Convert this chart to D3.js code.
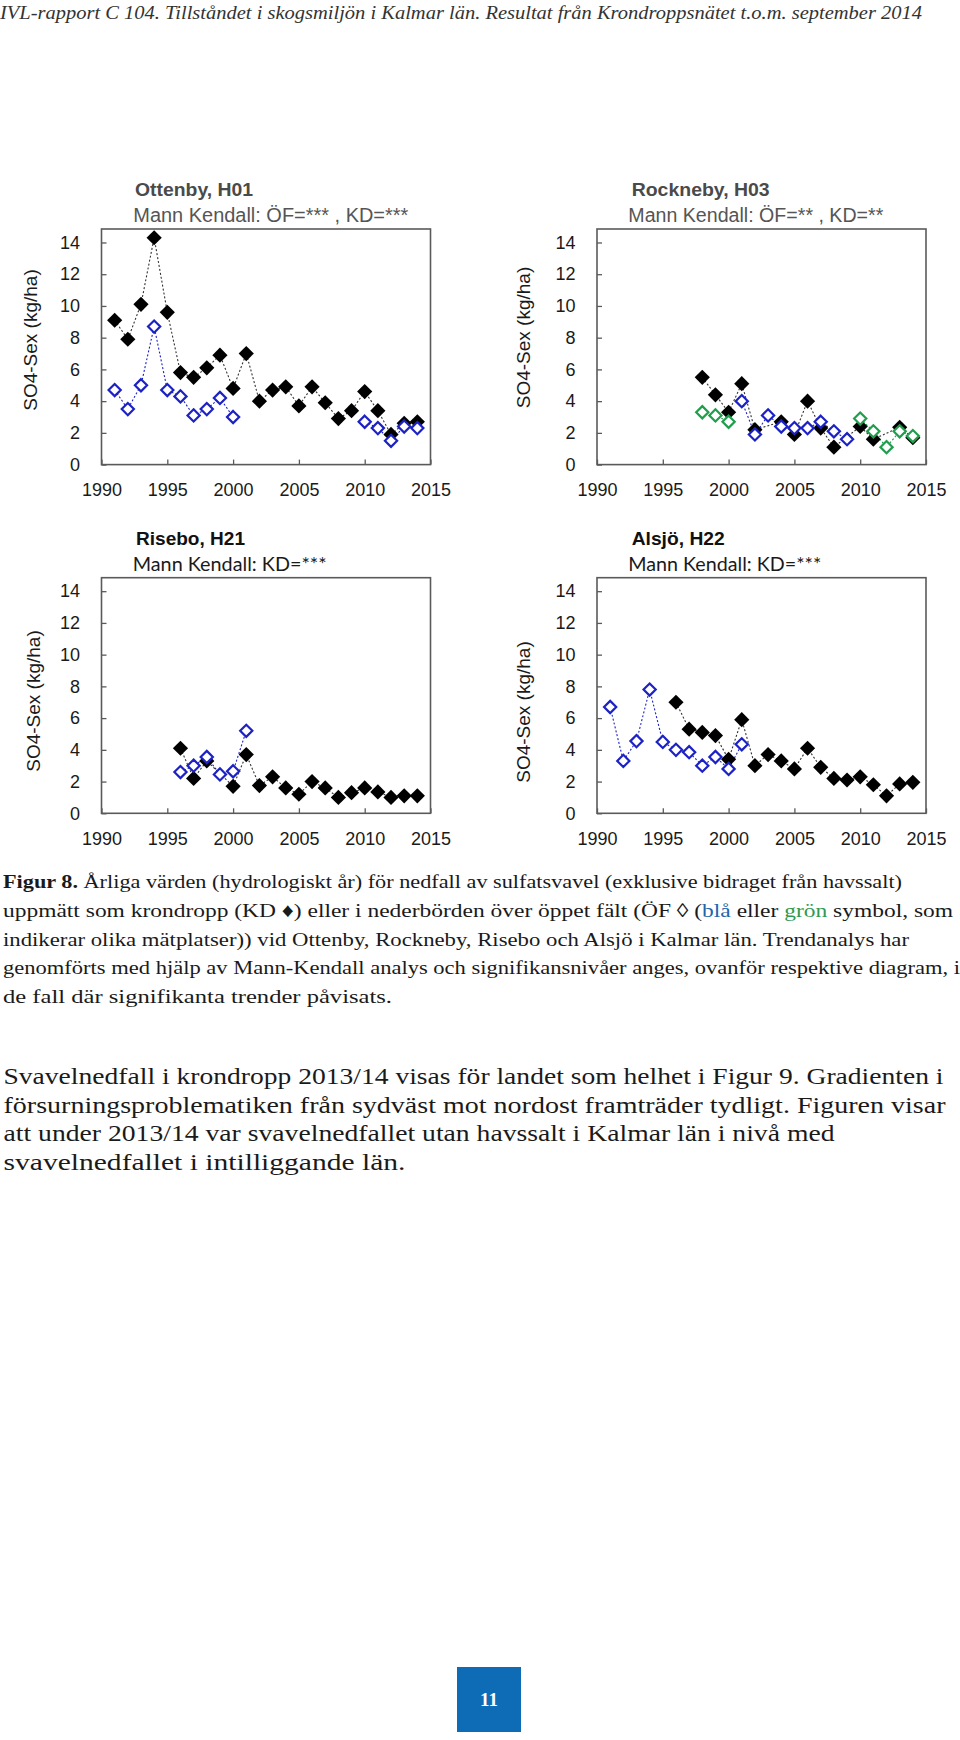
<!DOCTYPE html>
<html>
<head>
<meta charset="utf-8">
<script src="https://cdn.jsdelivr.net/npm/d3@7"></script>
<style>
  html, body { margin: 0; padding: 0; background: #fff; }
  svg { display: block; }
</style>
</head>
<body>
<svg id="chart" width="960" height="1740"></svg>
<script>
// ---------------- DATA ----------------
const years = [1991, 1992, 1993, 1994, 1995, 1996, 1997, 1998, 1999, 2000, 2001, 2002,
               2003, 2004, 2005, 2006, 2007, 2008, 2009, 2010, 2011, 2012, 2013, 2014];

// Ottenby, H01
const ottenbyKD = [9.1, 7.9, 10.1, 14.3, 9.6, 5.8, 5.5, 6.1, 6.9, 4.8, 7.0, 4.0,
                   4.7, 4.9, 3.7, 4.9, 3.9, 2.9, 3.4, 4.6, 3.4, 1.9, 2.6, 2.7];
const ottenbyOF = [4.7, 3.5, 5.0, 8.7, 4.7, 4.3, 3.1, 3.5, 4.2, 3.0, null, null,
                   null, null, null, null, null, null, null, 2.7, 2.3, 1.5, 2.4, 2.3];

// Rockneby, H03
const rocknebyKD = [null, null, null, null, null, null, null, 5.5, 4.4, 3.3, 5.1, 2.2,
                    null, 2.7, 1.9, 4.0, 2.3, 1.1, null, 2.4, 1.6, null, 2.35, 1.7];
const rocknebyOFblue = [null, null, null, null, null, null, null, null, null, null, 4.0, 1.9,
                        3.1, 2.4, 2.3, 2.3, 2.7, 2.1, 1.6, null, null, null, null, null];
const rocknebyOFgreen = [null, null, null, null, null, null, null, 3.3, 3.1, 2.7, null, null,
                         null, null, null, null, null, null, null, 2.9, 2.1, 1.1, 2.1, 1.8];

// Risebo, H21
const riseboKD = [null, null, null, null, null, 4.1, 2.2, 3.3, null, 1.7, 3.7, 1.75,
                  2.3, 1.6, 1.2, 2.0, 1.6, 1.0, 1.3, 1.6, 1.35, 1.0, 1.1, 1.1];
const riseboOF = [null, null, null, null, null, 2.6, 3.0, 3.55, 2.45, 2.65, 5.2, null,
                  null, null, null, null, null, null, null, null, null, null, null, null];

// Alsjö, H22
const alsjoKD = [null, null, null, null, null, 7.0, 5.3, 5.1, 4.9, 3.4, 5.9, 3.0,
                 3.7, 3.3, 2.8, 4.1, 2.9, 2.2, 2.1, 2.3, 1.8, 1.1, 1.85, 1.95];
const alsjoOF = [6.7, 3.3, 4.55, 7.8, 4.5, 4.0, 3.85, 3.0, 3.55, 2.8, 4.35, null,
                 null, null, null, null, null, null, null, null, null, null, null, null];

const panelTitles = ["Ottenby, H01", "Rockneby, H03", "Risebo, H21", "Alsjö, H22"];
const panelSubtitles = ["Mann Kendall: ÖF=*** , KD=***", "Mann Kendall: ÖF=** , KD=**",
                        "Mann Kendall: KD=***", "Mann Kendall: KD=***"];
const yAxisTitle = "SO4-Sex (kg/ha)";
const xTickValues = [1990, 1995, 2000, 2005, 2010, 2015];
const yTickValues = [0, 2, 4, 6, 8, 10, 12, 14];

const headerText = "IVL-rapport C 104. Tillståndet i skogsmiljön i Kalmar län. Resultat från Krondroppsnätet t.o.m. september 2014";
const captionLines = [
  [{t: "Figur 8.", b: true}, {t: " Årliga värden (hydrologiskt år) för nedfall av sulfatsvavel (exklusive bidraget från havssalt)"}],
  [{t: "uppmätt som krondropp (KD \u2666) eller i nederbörden över öppet fält (ÖF \u25CA ("}, {t: "blå", c: "blue"}, {t: " eller "}, {t: "grön", c: "green"}, {t: " symbol, som"}],
  [{t: "indikerar olika mätplatser)) vid Ottenby, Rockneby, Risebo och Alsjö i Kalmar län. Trendanalys har"}],
  [{t: "genomförts med hjälp av Mann-Kendall analys och signifikansnivåer anges, ovanför respektive diagram, i"}],
  [{t: "de fall där signifikanta trender påvisats."}]
];
const paragraphLines = [
  "Svavelnedfall i krondropp 2013/14 visas för landet som helhet i Figur 9. Gradienten i",
  "försurningsproblematiken från sydväst mot nordost framträder tydligt. Figuren visar",
  "att under 2013/14 var svavelnedfallet utan havssalt i Kalmar län i nivå med",
  "svavelnedfallet i intilliggande län."
];
const pageNumber = "11";

// ---------------- LAYOUT / STYLE ----------------
const COL = { kd: "#000000", blue: "#1c22c4", green: "#1f9e4c", frame: "#5a5a5a" };
const svg = d3.select("#chart");
svg.append("rect").attr("width", 960).attr("height", 1740).attr("fill", "#fff");

const panels = [
  { left: 101.5, top: 229, title: panelTitles[0], sub: panelSubtitles[0],
    titlePos: [135, 196, 118], subPos: [133.3, 222, 275], titleColor: "#4a4a4a", subColor: "#555", subFont: "Liberation Sans, Arial, sans-serif",
    yTitle: [30.5, 340],
    series: [
      { vals: ottenbyKD, type: "kd" },
      { vals: ottenbyOF, type: "blue" }
    ] },
  { left: 597, top: 229, title: panelTitles[1], sub: panelSubtitles[1],
    titlePos: [631.7, 196, 138], subPos: [628.3, 222, 255], titleColor: "#4a4a4a", subColor: "#555", subFont: "Liberation Sans, Arial, sans-serif",
    yTitle: [523.5, 337.5],
    series: [
      { vals: rocknebyKD, type: "kd" },
      { vals: rocknebyOFblue, type: "blue" },
      { vals: rocknebyOFgreen, type: "green" }
    ] },
  { left: 101.5, top: 577.7, title: panelTitles[2], sub: panelSubtitles[2],
    titlePos: [136, 545, 109], subPos: [132.7, 571, 194], titleColor: "#111", subColor: "#1a1a1a", subFont: "Lato, Carlito, sans-serif",
    yTitle: [33.5, 701],
    series: [
      { vals: riseboKD, type: "kd" },
      { vals: riseboOF, type: "blue" }
    ] },
  { left: 597, top: 577.7, title: panelTitles[3], sub: panelSubtitles[3],
    titlePos: [631.7, 545, 93], subPos: [628.3, 571, 193], titleColor: "#111", subColor: "#1a1a1a", subFont: "Lato, Carlito, sans-serif",
    yTitle: [523.5, 712],
    series: [
      { vals: alsjoKD, type: "kd" },
      { vals: alsjoOF, type: "blue" }
    ] }
];
const PW = 329, PH = 235.6;

function segmentsOf(vals) {
  const pts = years.map((y, i) => ({ x: y, v: vals[i] })).filter(d => d.v != null);
  const segs = []; let cur = [];
  pts.forEach((p, i) => {
    if (i > 0 && p.x - pts[i - 1].x > 3) { segs.push(cur); cur = []; }
    cur.push(p);
  });
  if (cur.length) segs.push(cur);
  return segs;
}

panels.forEach(p => {
  const x = d3.scaleLinear().domain([1990, 2015]).range([p.left, p.left + PW]);
  const y = d3.scaleLinear().domain([0, 14.85]).range([p.top + PH, p.top]);
  const g = svg.append("g");

  // titles
  g.append("text").attr("x", p.titlePos[0]).attr("y", p.titlePos[1])
    .attr("font-family", "Liberation Sans, Arial, sans-serif").attr("font-weight", "bold")
    .attr("font-size", 19).attr("fill", p.titleColor)
    .attr("textLength", p.titlePos[2]).attr("lengthAdjust", "spacingAndGlyphs")
    .text(p.title);
  g.append("text").attr("x", p.subPos[0]).attr("y", p.subPos[1])
    .attr("font-family", p.subFont).attr("font-size", 19.5).attr("fill", p.subColor)
    .attr("textLength", p.subPos[2]).attr("lengthAdjust", "spacingAndGlyphs")
    .text(p.sub);

  // axes (inward ticks)
  const yAxis = d3.axisLeft(y).tickValues(yTickValues).tickSize(-5).tickPadding(21.5).tickFormat(d3.format("d"));
  const xAxis = d3.axisBottom(x).tickValues(xTickValues).tickSize(-5).tickPadding(19).tickFormat(d3.format("d"));
  const ya = g.append("g").attr("transform", `translate(${p.left},0)`).call(yAxis);
  const xa = g.append("g").attr("transform", `translate(0,${p.top + PH})`).call(xAxis);
  [ya, xa].forEach(a => {
    a.select(".domain").remove();
    a.selectAll(".tick line").attr("stroke", COL.frame).attr("stroke-width", 1.3);
    a.selectAll(".tick text").attr("font-family", "Liberation Sans, Arial, sans-serif")
      .attr("font-size", 18).attr("fill", "#1a1a1a");
  });
  xa.selectAll(".tick text").attr("dy", "0.71em");

  // frame
  g.append("rect").attr("x", p.left).attr("y", p.top).attr("width", PW).attr("height", PH)
    .attr("fill", "none").attr("stroke", COL.frame).attr("stroke-width", 1.6);

  // y axis title
  g.append("text").attr("transform", `translate(${p.yTitle[0]},${p.yTitle[1]}) rotate(-90)`)
    .attr("text-anchor", "middle").attr("dominant-baseline", "central")
    .attr("font-family", "Liberation Sans, Arial, sans-serif").attr("font-size", 19).attr("fill", "#1a1a1a")
    .text(yAxisTitle);

  const line = d3.line().x(d => x(d.x)).y(d => y(d.v));

  // lines first
  p.series.forEach(s => {
    segmentsOf(s.vals).forEach(seg => {
      g.append("path").datum(seg).attr("d", line).attr("fill", "none")
        .attr("stroke", s.type === "kd" ? "#333" : COL[s.type])
        .attr("stroke-width", 1.1).attr("stroke-dasharray", "2,2");
    });
  });

  // markers
  p.series.forEach(s => {
    const pts = years.map((yr, i) => ({ x: yr, v: s.vals[i] })).filter(d => d.v != null);
    if (s.type === "kd") {
      const r = 7.6;
      g.selectAll(null).data(pts).enter().append("path")
        .attr("d", d => `M${x(d.x)},${y(d.v) - r}L${x(d.x) + r},${y(d.v)}L${x(d.x)},${y(d.v) + r}L${x(d.x) - r},${y(d.v)}Z`)
        .attr("fill", "#000");
    } else {
      const r = 6.1;
      g.selectAll(null).data(pts).enter().append("path")
        .attr("d", d => `M${x(d.x)},${y(d.v) - r}L${x(d.x) + r},${y(d.v)}L${x(d.x)},${y(d.v) + r}L${x(d.x) - r},${y(d.v)}Z`)
        .attr("fill", "#fff").attr("stroke", COL[s.type]).attr("stroke-width", 2.2);
    }
  });
});

// ---------------- TEXT ----------------
svg.append("text").attr("x", 0).attr("y", 19)
  .attr("font-family", "Liberation Serif, serif").attr("font-style", "italic")
  .attr("font-size", 19).attr("fill", "#333")
  .attr("textLength", 922).attr("lengthAdjust", "spacingAndGlyphs")
  .text(headerText);

const capWidths = [899, 950, 906, 957, 389];
const capColors = { blue: "#2166ac", green: "#2e9a52" };
captionLines.forEach((ln, i) => {
  const t = svg.append("text").attr("x", 3).attr("y", 888 + i * 28.8)
    .attr("font-family", "Liberation Serif, serif").attr("font-size", 19.5).attr("fill", "#1a1a1a")
    .attr("textLength", capWidths[i]).attr("lengthAdjust", "spacingAndGlyphs");
  ln.forEach(part => {
    t.append("tspan").text(part.t)
      .attr("font-weight", part.b ? "bold" : null)
      .attr("fill", part.c ? capColors[part.c] : null);
  });
});

const parWidths = [940, 942, 831, 402];
paragraphLines.forEach((ln, i) => {
  svg.append("text").attr("x", 3.5).attr("y", 1084 + i * 28.7)
    .attr("font-family", "Liberation Serif, serif").attr("font-size", 23.5).attr("fill", "#1a1a1a")
    .attr("textLength", parWidths[i]).attr("lengthAdjust", "spacingAndGlyphs")
    .text(ln);
});

svg.append("rect").attr("x", 457).attr("y", 1667).attr("width", 64).attr("height", 65).attr("fill", "#0d6cb5");
svg.append("text").attr("x", 489).attr("y", 1706).attr("text-anchor", "middle")
  .attr("font-family", "Liberation Serif, serif").attr("font-weight", "bold")
  .attr("font-size", 19).attr("fill", "#fff").text(pageNumber);
</script>
</body>
</html>
